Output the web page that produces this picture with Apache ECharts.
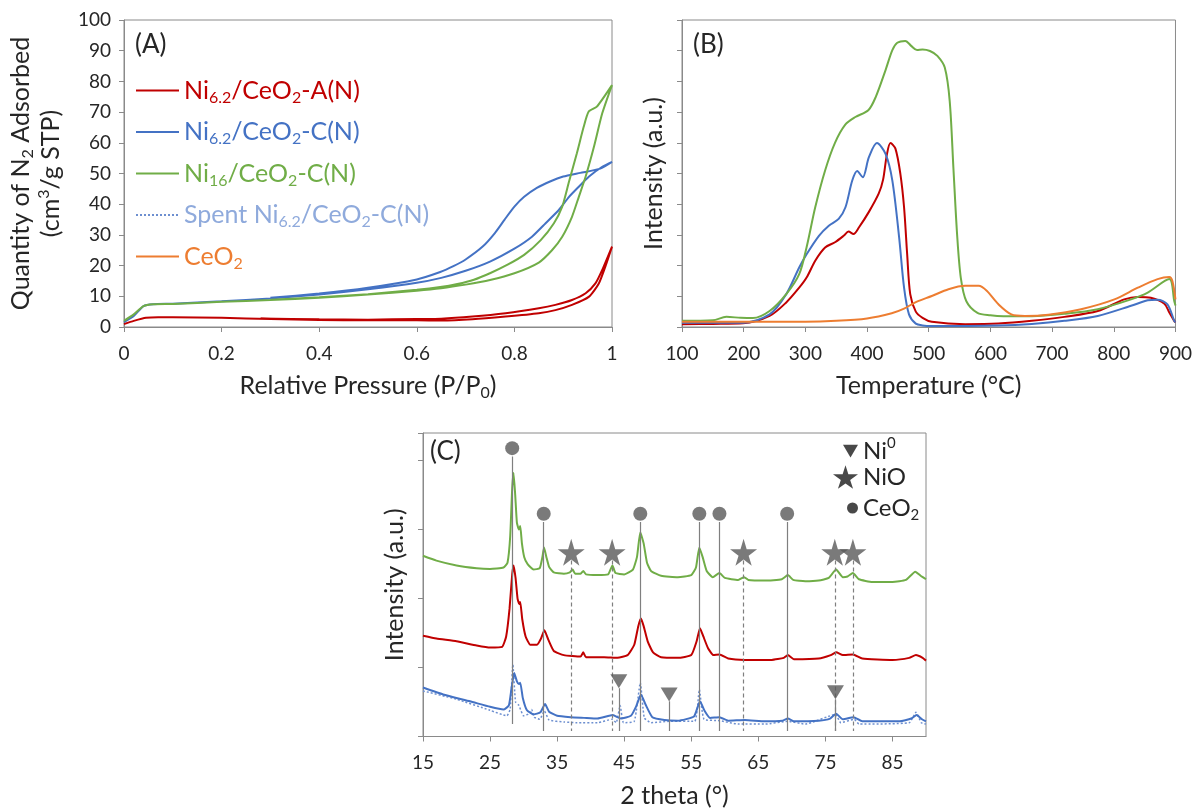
<!DOCTYPE html>
<html><head><meta charset="utf-8">
<script src="https://cdn.jsdelivr.net/npm/echarts@6.0.0/dist/echarts.min.js"></script>
<style>html,body{margin:0;padding:0;background:#fff}#c{width:1195px;height:809px}</style>
</head><body><div id="c"></div><script>
// ---------- Panel A: N2 isotherms [P/P0, quantity] (adsorption then desorption) ----------
const isoRedA = [[0,1.0],[0.02,2.0],[0.045,3.0],[0.07,3.2],[0.1,3.2],[0.2,3.0],[0.3,2.6],[0.4,2.3],[0.5,2.2],[0.6,2.2],[0.65,2.1],[0.714,2.5],[0.782,3.4],[0.85,4.5],[0.884,5.5],[0.918,7.2],[0.953,9.9],[0.973,14.2],[0.987,20.0],[1.0,26.2],
  [0.98,18.6],[0.966,14.2],[0.946,11.0],[0.918,8.8],[0.884,7.2],[0.85,6.1],[0.782,4.5],[0.714,3.4],[0.65,2.7],[0.6,2.6],[0.5,2.4],[0.4,2.5],[0.28,2.8]];
const isoBlueA = [[0,1.6],[0.02,3.6],[0.04,6.8],[0.06,7.4],[0.1,7.6],[0.2,8.4],[0.3,9.3],[0.4,10.6],[0.5,12.3],[0.6,14.4],[0.65,16.0],[0.7,18.3],[0.75,21.3],[0.8,25.5],[0.836,29.4],[0.864,33.8],[0.891,38.1],[0.912,42.4],[0.932,45.7],[0.953,49.0],[0.98,52.2],[1.0,53.8],
  [0.976,51.6],[0.935,50.2],[0.9,49.0],[0.873,47.4],[0.846,45.3],[0.82,42.4],[0.8,39.2],[0.78,35.0],[0.76,30.6],[0.735,26.2],[0.7,22.0],[0.675,19.8],[0.648,17.9],[0.6,15.5],[0.5,12.8],[0.4,10.9],[0.3,9.5]];
const isoGreenA = [[0,2.0],[0.02,4.1],[0.04,6.8],[0.06,7.4],[0.1,7.5],[0.2,8.2],[0.3,8.8],[0.4,9.5],[0.5,10.6],[0.6,11.8],[0.65,12.6],[0.7,13.8],[0.75,15.3],[0.8,17.5],[0.85,21.0],[0.877,25.0],[0.898,29.4],[0.918,35.9],[0.932,42.4],[0.946,49.0],[0.963,58.7],[0.98,69.6],[1.0,78.8],
  [0.969,71.8],[0.952,70.1],[0.942,65.2],[0.928,56.6],[0.911,46.8],[0.898,39.2],[0.881,33.8],[0.854,28.3],[0.82,23.5],[0.786,20.3],[0.751,17.6],[0.717,15.4],[0.683,14.0],[0.648,13.0],[0.6,12.1],[0.5,10.7],[0.4,9.7],[0.3,8.9]];

// ---------- Panel B: H2-TPR [temperature °C, intensity a.u.] ----------
const tprRed = [[100,0.09],[150,0.1],[199,0.12],[242,0.36],[269,0.8],[290,1.28],[302,1.61],[316,2.16],[332,2.59],[348,2.76],[362,2.97],[370,3.11],[378,3.03],[387,3.25],[403,3.75],[419,4.35],[426,4.8],[432,5.6],[438,5.99],[446,5.81],[454,4.99],[460,3.9],[465,2.38],[470,1.07],[479,0.5],[490,0.3],[505,0.17],[559,0.09],[613,0.11],[667,0.2],[720,0.33],[774,0.52],[817,0.9],[839,0.98],[860,0.95],[882,0.76],[890,0.47],[898,0.2],[900,0.15]];
const tprBlue = [[100,0.14],[150,0.14],[199,0.14],[242,0.41],[269,1.07],[290,1.94],[302,2.37],[322,2.97],[338,3.3],[354,3.52],[365,3.9],[376,4.77],[384,5.08],[393,4.88],[403,5.53],[416,5.99],[430,5.64],[441,4.77],[452,2.92],[460,1.28],[468,0.41],[479,0.11],[490,0.05],[505,0.03],[613,0.05],[667,0.1],[720,0.2],[774,0.36],[828,0.69],[855,0.87],[871,0.89],[887,0.74],[898,0.2],[900,0.15]];
const tprGreen = [[100,0.2],[150,0.22],[172,0.33],[195,0.3],[215,0.29],[242,0.52],[269,1.07],[290,1.72],[302,2.6],[316,3.9],[332,5.1],[348,6.0],[365,6.6],[381,6.84],[402,7.06],[414,7.49],[430,8.37],[441,9.02],[449,9.26],[462,9.32],[472,9.15],[481,9.02],[490,9.04],[502,8.99],[514,8.83],[526,8.45],[534,7.36],[540,5.18],[546,3.01],[552,1.6],[561,0.84],[579,0.46],[600,0.38],[621,0.35],[667,0.35],[720,0.43],[774,0.58],[828,0.9],[855,1.12],[890,1.56],[898,0.85],[900,0.7]];
const tprCeO2 = [[100,0.17],[200,0.17],[300,0.17],[350,0.2],[400,0.28],[440,0.45],[460,0.6],[480,0.82],[505,1.01],[532,1.23],[559,1.34],[581,1.34],[594,1.18],[613,0.74],[634,0.41],[656,0.36],[694,0.4],[747,0.58],[801,0.9],[839,1.28],[871,1.56],[890,1.63],[895,1.5],[900,0.9]];

// ---------- Panel C: XRD [2 theta, offset intensity] ----------
const xrdGreen = [[15,2.62],[17,2.55],[20,2.48],[23,2.44],[25,2.43],[27,2.45],[27.6,2.52],[28.0,2.9],[28.3,3.6],[28.5,3.82],[28.75,3.5],[29.0,3.1],[29.3,3.0],[29.5,3.05],[29.75,2.8],[30.1,2.6],[30.6,2.5],[31.5,2.42],[32.4,2.44],[32.8,2.6],[33.05,2.74],[33.4,2.6],[33.8,2.46],[34.5,2.38],[36,2.36],[36.9,2.38],[37.3,2.42],[37.7,2.36],[38.5,2.36],[38.9,2.4],[39.3,2.35],[41,2.34],[42.6,2.35],[43.25,2.48],[43.7,2.37],[45,2.35],[46.3,2.42],[46.9,2.6],[47.4,2.96],[47.9,2.8],[48.4,2.52],[49,2.4],[50.5,2.33],[53,2.31],[55,2.34],[55.7,2.45],[56.2,2.74],[56.7,2.6],[57.3,2.4],[58.2,2.31],[59.2,2.37],[60,2.3],[62,2.27],[62.9,2.31],[63.5,2.27],[66,2.26],[68.5,2.28],[69.4,2.34],[70.2,2.27],[72,2.25],[74,2.26],[75.5,2.3],[76.6,2.42],[77.6,2.31],[78.3,2.32],[79.1,2.37],[80,2.28],[82,2.24],[85,2.24],[87,2.27],[88.4,2.39],[89.2,2.33],[90,2.28]];
const xrdRed = [[15,1.46],[17,1.42],[20,1.38],[23,1.32],[25,1.29],[26.8,1.3],[27.4,1.45],[27.9,1.85],[28.3,2.35],[28.5,2.48],[28.8,2.3],[29.1,2.0],[29.35,1.92],[29.5,1.95],[29.8,1.7],[30.3,1.45],[31,1.33],[32,1.33],[32.6,1.42],[33.1,1.54],[33.7,1.4],[34.5,1.24],[36,1.18],[38.5,1.16],[38.9,1.22],[39.3,1.15],[42,1.15],[44,1.14],[45.5,1.18],[46.5,1.33],[47.1,1.6],[47.5,1.71],[47.9,1.6],[48.5,1.38],[49.3,1.22],[50.5,1.15],[53,1.14],[55,1.18],[55.8,1.38],[56.3,1.57],[56.8,1.45],[57.5,1.28],[58.3,1.18],[59.2,1.19],[60.5,1.13],[63,1.11],[67,1.11],[68.8,1.14],[69.4,1.18],[70.3,1.12],[74,1.13],[75.8,1.18],[76.6,1.22],[77.6,1.18],[79.1,1.19],[80.5,1.13],[85,1.11],[87.5,1.14],[88.5,1.18],[89.5,1.14],[90,1.1]];
const xrdBlue = [[15,0.71],[18,0.61],[22,0.51],[25,0.43],[27,0.39],[27.8,0.45],[28.2,0.7],[28.6,0.92],[29.0,0.8],[29.3,0.76],[29.5,0.78],[29.9,0.55],[30.5,0.38],[31.5,0.32],[32.5,0.35],[33.2,0.47],[33.8,0.36],[35,0.3],[37,0.28],[39,0.27],[41,0.26],[43.3,0.31],[44.5,0.26],[46,0.3],[46.8,0.44],[47.5,0.61],[48.2,0.46],[49.2,0.28],[51,0.24],[53,0.23],[55.4,0.29],[56.3,0.51],[57,0.37],[57.8,0.27],[59.2,0.28],[60.5,0.23],[63,0.24],[66,0.22],[68.6,0.23],[69.4,0.26],[70.3,0.22],[74,0.23],[75.7,0.26],[76.6,0.33],[77.6,0.25],[79.2,0.28],[80.5,0.22],[86,0.22],[87.8,0.26],[88.6,0.31],[89.4,0.25],[90,0.22]];
const xrdSpent = [[15,0.66],[20,0.54],[25,0.38],[27.5,0.3],[28.0,0.4],[28.4,1.04],[28.8,0.5],[29.3,0.45],[30,0.3],[31,0.34],[31.2,0.39],[31.6,0.28],[32.4,0.25],[33.1,0.37],[33.8,0.24],[36,0.21],[38,0.2],[41,0.2],[43.2,0.25],[43.8,0.2],[44.4,0.45],[44.9,0.2],[46.5,0.22],[47.4,0.78],[48,0.27],[49,0.2],[51.8,0.22],[55.5,0.22],[56.2,0.68],[56.9,0.25],[59.2,0.23],[62,0.18],[66,0.18],[69.4,0.22],[72,0.18],[76.5,0.32],[77.3,0.2],[79.3,0.25],[80,0.18],[87.5,0.2],[88.5,0.35],[89.3,0.2],[90,0.18]];

// Phase reference markers (2 theta, marker height) and their drop-lines
const ceo2X = [28.3, 33.0, 47.4, 56.2, 59.2, 69.3];
const ceo2Y = [4.18, 3.23, 3.23, 3.23, 3.23, 3.23];
const ceo2LineBottom = [0.18, 0.08, 0.08, 0.08, 0.08, 0.08];
const nioX = [37.1, 43.2, 62.8, 76.4, 79.1];
const nioY = [2.67, 2.67, 2.67, 2.67, 2.67];
const ni0X = [44.2, 51.7, 76.5];
const ni0Y = [0.80, 0.61, 0.64];

// Tick labels
const ticksA = [0, 0.2, 0.4, 0.6, 0.8, 1];
const ticksB = [100, 200, 300, 400, 500, 600, 700, 800, 900];
const ticksC = [15, 25, 35, 45, 55, 65, 75, 85];

// Series names
const N_A = 'Ni6.2/CeO2-A(N)', N_C = 'Ni6.2/CeO2-C(N)', N_16 = 'Ni16/CeO2-C(N)', N_SP = 'Spent Ni6.2/CeO2-C(N)', N_CE = 'CeO2';
const RED = '#C00000', BLUE = '#4472C4', GREEN = '#70AD47', ORANGE = '#ED7D31', SPENT = '#8FAADC', MARK = '#595959';
const FONT = 'Lato', TXT = '#262626', AX = '#8a8a8a';

const richBase = (fs) => ({
  t: {fontSize: fs, fontFamily: FONT, lineHeight: 30},
  s: {fontSize: Math.round(fs * 0.64), fontFamily: FONT, lineHeight: 15, verticalAlign: 'bottom'},
  p: {fontSize: Math.round(fs * 0.64), fontFamily: FONT, lineHeight: 22, verticalAlign: 'top'}
});
const legendFmt = {
  [N_A]: '{t|Ni}{s|6.2}{t|/CeO}{s|2}{t|-A(N)}',
  [N_C]: '{t|Ni}{s|6.2}{t|/CeO}{s|2}{t|-C(N)}',
  [N_16]: '{t|Ni}{s|16}{t|/CeO}{s|2}{t|-C(N)}',
  [N_SP]: '{t|Spent Ni}{s|6.2}{t|/CeO}{s|2}{t|-C(N)}',
  [N_CE]: '{t|CeO}{s|2}',
  'Ni0': '{t|Ni}{p|0}',
  'NiO': '{t|NiO}',
  'CeO2 (XRD)': '{t|CeO}{s|2}'
};
const TITLE_FS = 25;

function xAx(gi, min, max, ticks, name, gap) {
  return {
    type: 'value', gridIndex: gi, min: min, max: max,
    name: name, nameLocation: 'middle', nameGap: gap,
    nameTextStyle: {color: TXT, fontFamily: FONT, fontSize: TITLE_FS, rich: richBase(TITLE_FS)},
    axisLine: {show: true, onZero: false, lineStyle: {color: AX, width: 1}},
    axisTick: {show: true, length: 5, inside: false, customValues: ticks, lineStyle: {color: AX}},
    axisLabel: {show: true, margin: 17, color: TXT, fontFamily: FONT, fontSize: 19, customValues: ticks},
    splitLine: {show: false}
  };
}
function yAx(gi, min, max, interval, showLabels, name, gap) {
  return {
    type: 'value', gridIndex: gi, min: min, max: max, interval: interval,
    name: name, nameLocation: 'middle', nameGap: gap,
    nameTextStyle: {color: TXT, fontFamily: FONT, fontSize: TITLE_FS, lineHeight: 30, rich: richBase(TITLE_FS)},
    axisLine: {show: true, onZero: false, lineStyle: {color: AX, width: 1}},
    axisTick: {show: true, length: 5, inside: false, lineStyle: {color: AX}},
    axisLabel: {show: showLabels, margin: 13, color: TXT, fontFamily: FONT, fontSize: 19},
    splitLine: {show: false}
  };
}
function line(name, data, color, xi, width, type, smooth) {
  return {
    type: 'line', name: name, data: data, xAxisIndex: xi, yAxisIndex: xi,
    symbol: 'none', showSymbol: false, smooth: smooth, color: color,
    lineStyle: {color: color, width: width, type: type || 'solid'},
    silent: true, z: 3
  };
}
function vlines(xs, tops, bottoms, type) {
  return {
    symbol: ['none', 'none'], silent: true, animation: false,
    label: {show: false},
    lineStyle: {color: '#7f7f7f', width: 1.2, type: type},
    emphasis: {disabled: true},
    data: xs.map((x, i) => [{coord: [x, tops[i]]}, {coord: [x, bottoms[i]]}])
  };
}
const legText = (c) => ({color: c, fontFamily: FONT, fontSize: 25, rich: richBase(25)});
const legC = () => ({color: TXT, fontFamily: FONT, fontSize: 24, rich: richBase(24)});

const chart = echarts.init(document.getElementById('c'), null, {renderer: 'canvas'});
chart.setOption({
  animation: false,
  backgroundColor: '#fff',
  grid: [
    {left: 124, top: 20, width: 488, height: 307, show: true, borderColor: AX, borderWidth: 1, containLabel: false},
    {left: 682, top: 20, width: 496, height: 307, show: true, borderColor: AX, borderWidth: 1, containLabel: false},
    {left: 423, top: 433, width: 503, height: 306, show: true, borderColor: AX, borderWidth: 1, containLabel: false}
  ],
  xAxis: [
    xAx(0, 0, 1, ticksA, '{t|Relative Pressure (P/P}{s|0}{t|)}', 44),
    xAx(1, 100, 900, ticksB, '{t|Temperature (°C)}', 44),
    xAx(2, 15, 90, ticksC, '{t|2 theta (°)}', 44)
  ],
  yAxis: [
    yAx(0, 0, 100, 10, true, '{t|Quantity of N}{s|2}{t| Adsorbed}\n{t|(cm}{p|3}{t|/g STP)}', 58),
    yAx(1, 0, 10, 1, false, '{t|Intensity (a.u.)}', 13),
    yAx(2, 0, 4.4, 1, false, '{t|Intensity (a.u.)}', 13)
  ],
  legend: [
    {
      orient: 'vertical', left: 130, top: 73, itemWidth: 43, itemHeight: 14, itemGap: 14,
      selectedMode: false,
      itemStyle: {opacity: 0, borderWidth: 0},
      formatter: (n) => legendFmt[n],
      textStyle: legText(TXT),
      data: [
        {name: N_A, textStyle: legText(RED)},
        {name: N_C, textStyle: legText(BLUE)},
        {name: N_16, textStyle: legText(GREEN)},
        {name: N_SP, textStyle: legText(SPENT)},
        {name: N_CE, textStyle: legText(ORANGE)}
      ]
    },
    {left: 838, top: 431, itemWidth: 15, itemHeight: 13, selectedMode: false, formatter: (n) => legendFmt[n],
      itemStyle: {color: '#1a1a1a'}, textStyle: legC(),
      data: [{name: 'Ni0', icon: 'path://M0,0 L20,0 L10,17 Z'}]},
    {left: 828, top: 460, itemWidth: 25, itemHeight: 24, selectedMode: false, formatter: (n) => legendFmt[n],
      itemStyle: {color: '#1a1a1a'}, textStyle: legC(), data: ['NiO']},
    {left: 842, top: 491, itemWidth: 11, itemHeight: 11, selectedMode: false, formatter: (n) => legendFmt[n],
      itemStyle: {color: '#1a1a1a'}, textStyle: legC(), data: ['CeO2 (XRD)']}
  ],
  graphic: [
    {type: 'text', left: 135, top: 32, style: {text: '(A)', font: '26px Lato', fill: TXT}},
    {type: 'text', left: 693, top: 32, style: {text: '(B)', font: '26px Lato', fill: TXT}},
    {type: 'text', left: 430, top: 439, style: {text: '(C)', font: '26px Lato', fill: TXT}}
  ],
  series: [
    line(N_A, isoRedA, RED, 0, 2, 'solid', 0.2),
    line(N_C, isoBlueA, BLUE, 0, 2, 'solid', 0.2),
    line(N_16, isoGreenA, GREEN, 0, 2, 'solid', 0.2),

    line(N_A, tprRed, RED, 1, 2, 'solid', 0.3),
    line(N_C, tprBlue, BLUE, 1, 2, 'solid', 0.3),
    line(N_16, tprGreen, GREEN, 1, 2, 'solid', 0.3),
    line(N_CE, tprCeO2, ORANGE, 1, 2, 'solid', 0.3),

    line(N_16, xrdGreen, GREEN, 2, 2, 'solid', 0.15),
    line(N_A, xrdRed, RED, 2, 2, 'solid', 0.15),
    Object.assign(line(N_SP, xrdSpent, '#6d8fd0', 2, 1.5, [2, 2], 0.15), {z: 2}),
    line(N_C, xrdBlue, BLUE, 2, 2, 'solid', 0.15),

    {type: 'scatter', name: 'CeO2 (XRD)', xAxisIndex: 2, yAxisIndex: 2, symbol: 'circle', symbolSize: 14,
      itemStyle: {color: MARK}, silent: true, z: 5,
      data: ceo2X.map((x, i) => [x, ceo2Y[i]]),
      markLine: vlines(ceo2X, ceo2Y.map(v => v - 0.12), ceo2LineBottom, 'solid')},
    {type: 'scatter', name: 'NiO', xAxisIndex: 2, yAxisIndex: 2,
      symbol: 'path://M50,0 L61,35 L98,35 L68,57 L79,91 L50,70 L21,91 L32,57 L2,35 L39,35 Z', symbolSize: 27,
      itemStyle: {color: MARK}, silent: true, z: 5,
      data: nioX.map((x, i) => [x, nioY[i]]),
      markLine: vlines(nioX, nioY.map(v => v - 0.12), nioX.map(() => 0.08), [4, 3])},
    {type: 'scatter', name: 'Ni0', xAxisIndex: 2, yAxisIndex: 2, symbol: 'triangle', symbolRotate: 180, symbolSize: [17, 14],
      itemStyle: {color: MARK}, silent: true, z: 5,
      data: ni0X.map((x, i) => [x, ni0Y[i]]),
      markLine: vlines(ni0X, ni0Y.map(v => v - 0.1), ni0X.map(() => 0.08), 'solid')}
  ]
});
</script></body></html>
